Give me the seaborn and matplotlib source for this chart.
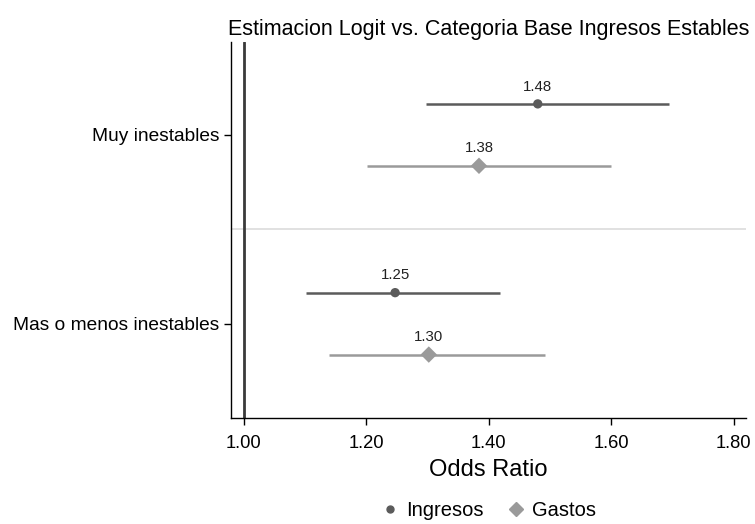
import numpy as np
import pandas as pd
import matplotlib
matplotlib.use("Agg")
import matplotlib.pyplot as plt
import seaborn as sns
from matplotlib.lines import Line2D

# -----------------------------
# DATA
# -----------------------------
categories = ["Muy inestables", "Mas o menos inestables"]
series = ["Ingresos", "Gastos"]

ingresos_or = [1.48, 1.247]
ingresos_lo = [1.298, 1.101]
ingresos_hi = [1.694, 1.418]

gastos_or = [1.384, 1.302]
gastos_lo = [1.201, 1.139]
gastos_hi = [1.600, 1.492]

x_ticks = [1.00, 1.20, 1.40, 1.60, 1.80]

# -----------------------------
# STYLE
# -----------------------------
sns.set_theme(style="white")
plt.rcParams["font.family"] = ["Liberation Sans", "DejaVu Sans"]
plt.rcParams["text.color"] = "black"
plt.rcParams["xtick.color"] = "black"
plt.rcParams["ytick.color"] = "black"
plt.rcParams["axes.labelcolor"] = "black"

colors = {"Ingresos": "#5b5b5b", "Gastos": "#9a9a9a"}
markers = {"Ingresos": "o", "Gastos": "D"}
sizes = {"Ingresos": 45, "Gastos": 70}
offsets = {"Ingresos": -0.164, "Gastos": 0.164}

rows = []
for i, cat in enumerate(categories):
    rows.append({"cat": cat, "serie": "Ingresos", "or": ingresos_or[i],
                 "lo": ingresos_lo[i], "hi": ingresos_hi[i]})
    rows.append({"cat": cat, "serie": "Gastos", "or": gastos_or[i],
                 "lo": gastos_lo[i], "hi": gastos_hi[i]})
df = pd.DataFrame(rows)
df["ypos"] = df["cat"].map({c: i for i, c in enumerate(categories)}) + df["serie"].map(offsets)

# -----------------------------
# PLOT
# -----------------------------
fig = plt.figure(figsize=(7.55, 5.24), dpi=100)
ax = fig.add_axes([0.306, 0.2023, 0.682, 0.7176])

ax.axvline(1.0, color="#3a3a3a", lw=2, zorder=1)
ax.axhline(0.5, color="#dcdcdc", lw=1.2, zorder=0)

for s in series:
    d = df[df["serie"] == s]
    ax.hlines(d["ypos"], d["lo"], d["hi"], color=colors[s], lw=1.8, zorder=2)
    sns.scatterplot(data=d, x="or", y="ypos", color=colors[s], marker=markers[s],
                    s=sizes[s], edgecolor="none", ax=ax, zorder=3, legend=False)
    for _, r in d.iterrows():
        ax.text(r["or"], r["ypos"] - 0.055, f"{r['or']:.2f}", ha="center", va="bottom",
                fontsize=10.8, color="#222222")

ax.set_xlim(0.979, 1.82)
ax.set_ylim(1.5, -0.492)
ax.set_xticks(x_ticks)
ax.set_xticklabels([f"{v:.2f}" for v in x_ticks], fontsize=13.2)
ax.set_yticks(range(len(categories)))
ax.set_yticklabels(categories, fontsize=13.8)
ax.tick_params(axis="both", direction="out", length=5, width=1, color="black", bottom=True, left=True)
ax.tick_params(axis="x", pad=7.5)
ax.set_xlabel("Odds Ratio", fontsize=17, labelpad=5)
ax.set_ylabel("")
ax.set_title("Estimacion Logit vs. Categoria Base Ingresos Estables", fontsize=15.5, pad=5)

for side in ["top", "right"]:
    ax.spines[side].set_visible(False)
for side in ["left", "bottom"]:
    ax.spines[side].set_color("black")
    ax.spines[side].set_linewidth(1)

handles = [Line2D([], [], ls="none", marker=markers[s], color=colors[s],
                  markersize=5 if s == "Ingresos" else 7) for s in series]
fig.legend(handles, series, loc="center", bbox_to_anchor=(0.645, 0.026), ncol=2,
           frameon=False, fontsize=14.5, handletextpad=0.2, columnspacing=1.0,
           handlelength=1.2, borderpad=0.1)

fig.savefig("out.png", dpi=100)
